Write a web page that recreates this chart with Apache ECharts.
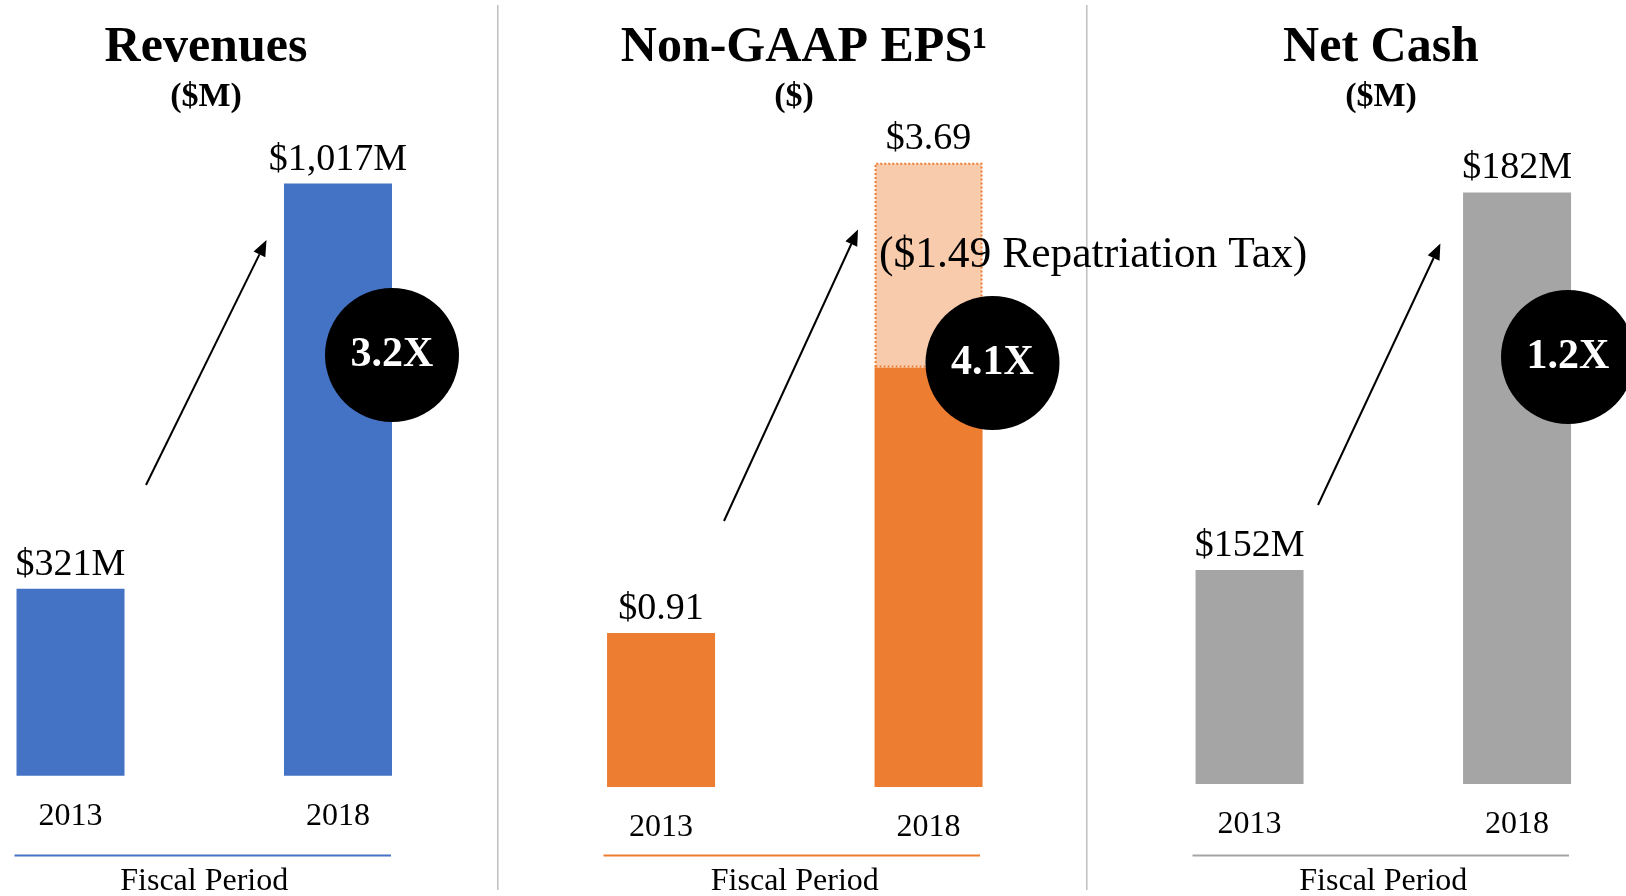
<!DOCTYPE html>
<html>
<head>
<meta charset="utf-8">
<script src="https://cdn.jsdelivr.net/npm/echarts@6/dist/echarts.min.js"></script>
<style>
html, body { margin: 0; padding: 0; background: #fff; }
#main { width: 1626px; height: 896px; }
</style>
</head>
<body>
<div id="main"></div>
<script>
var years = ['2013', '2018'];
var revenues = [321, 1017];
var epsBase = [0.91, 2.48];
var epsTax = [null, 1.21];
var taxNote = '($1.49 Repatriation Tax)';
var netCash = [152, 182];
var multiples = ['3.2X', '4.1X', '1.2X'];
var titles = ['Revenues', 'Non-GAAP EPS¹', 'Net Cash'];
var units = ['($M)', '($)', '($M)'];
var colors = ['#4472C4', '#ED7D31', '#A5A5A5'];

var FONT = 'Liberation Serif';
var chart = echarts.init(document.getElementById('main'));

function money(v) {
    return '$' + v.toLocaleString('en-US') + 'M';
}

function arrow(x1, y1, x2, y2) {
    var dx = x2 - x1, dy = y2 - y1;
    var len = Math.sqrt(dx * dx + dy * dy);
    var ux = dx / len, uy = dy / len;
    var hl = 16, hw = 6.5;
    var bx = x2 - ux * hl, by = y2 - uy * hl;
    return [
        { type: 'line', z: 100, shape: { x1: x1, y1: y1, x2: bx, y2: by }, style: { stroke: '#000', lineWidth: 2 } },
        { type: 'polygon', z: 100, shape: { points: [[x2, y2], [bx - uy * hw, by + ux * hw], [bx + uy * hw, by - ux * hw]] }, style: { fill: '#000' } }
    ];
}

function badge(cx, cy, txt) {
    return [
        { type: 'circle', z: 100, shape: { cx: cx, cy: cy, r: 67 }, style: { fill: '#000' } },
        { type: 'text', z: 101, x: cx, y: cy, style: { text: txt, fill: '#fff', font: 'bold 42px "Liberation Serif"', align: 'center', verticalAlign: 'middle' } }
    ];
}

var titleX = [206, 804, 1381];
var unitX = [206, 794, 1381];
var titleList = [];
for (var i = 0; i < 3; i++) {
    titleList.push({
        text: titles[i], left: titleX[i], top: 23, padding: 0, textAlign: 'center',
        textStyle: { fontFamily: FONT, fontSize: 50, fontWeight: 'bold', color: '#000' }
    });
    titleList.push({
        text: units[i], left: unitX[i], top: 80, padding: 0, textAlign: 'center',
        textStyle: { fontFamily: FONT, fontSize: 34, fontWeight: 'bold', color: '#000' }
    });
}

var nameGaps = [90, 79, 82];
var xAxes = [0, 1, 2].map(function (k) {
    return {
        type: 'category', gridIndex: k, data: years,
        axisLine: { show: false }, axisTick: { show: false },
        axisLabel: { margin: 25, fontSize: 32, color: '#000', fontFamily: FONT },
        name: 'Fiscal Period', nameLocation: 'middle', nameGap: nameGaps[k],
        nameTextStyle: { fontSize: 32, color: '#000', fontFamily: FONT }
    };
});

var valueLabel = { show: true, position: 'top', distance: 5, fontSize: 38, color: '#000', fontFamily: FONT };

var graphics = [
    { type: 'line', shape: { x1: 497.8, y1: 5, x2: 497.8, y2: 890 }, style: { stroke: '#BFBFBF', lineWidth: 1.5 } },
    { type: 'line', shape: { x1: 1086.8, y1: 5, x2: 1086.8, y2: 890 }, style: { stroke: '#BFBFBF', lineWidth: 1.5 } },
    { type: 'line', shape: { x1: 14.5, y1: 855.5, x2: 391, y2: 855.5 }, style: { stroke: colors[0], lineWidth: 2 } },
    { type: 'line', shape: { x1: 603.5, y1: 855.5, x2: 980, y2: 855.5 }, style: { stroke: colors[1], lineWidth: 2 } },
    { type: 'line', shape: { x1: 1192.5, y1: 855.5, x2: 1569, y2: 855.5 }, style: { stroke: colors[2], lineWidth: 2 } },
    { type: 'text', z: 102, x: 879, y: 256, style: { text: taxNote, fill: '#000', font: '43.5px "Liberation Serif"', verticalAlign: 'middle' } }
]
    .concat(arrow(146, 485, 266.5, 240))
    .concat(arrow(724, 521, 858, 229.5))
    .concat(arrow(1318, 505, 1440.4, 243.5))
    .concat(badge(392, 355, multiples[0]))
    .concat(badge(992.5, 363, multiples[1]))
    .concat(badge(1568, 357, multiples[2]));

var option = {
    animation: false,
    backgroundColor: '#fff',
    textStyle: { fontFamily: FONT },
    title: titleList,
    grid: [
        { left: -63.25, width: 535, top: 135.3, height: 640.4, outerBoundsMode: 'none' },
        { left: 527.3, width: 535, top: 110.2, height: 676.8, outerBoundsMode: 'none' },
        { left: 1115.8, width: 535, top: 91.8, height: 692.2, outerBoundsMode: 'none' }
    ],
    xAxis: xAxes,
    yAxis: [
        { type: 'value', gridIndex: 0, min: 0, max: 1100, show: false },
        { type: 'value', gridIndex: 1, min: 0, max: 4, show: false },
        { type: 'value', gridIndex: 2, min: 135, max: 190, show: false }
    ],
    series: [
        {
            type: 'bar', xAxisIndex: 0, yAxisIndex: 0, barWidth: 108, data: revenues,
            itemStyle: { color: colors[0] },
            label: Object.assign({}, valueLabel, { formatter: function (p) { return money(p.value); } })
        },
        {
            type: 'bar', xAxisIndex: 1, yAxisIndex: 1, barWidth: 108, stack: 'eps',
            data: epsBase.map(function (v, i) {
                return { value: v, label: { show: epsTax[i] == null } };
            }),
            itemStyle: { color: colors[1] },
            label: Object.assign({}, valueLabel, { formatter: function (p) { return '$' + p.value.toFixed(2); } })
        },
        {
            type: 'bar', xAxisIndex: 1, yAxisIndex: 1, barWidth: 108, stack: 'eps', data: epsTax,
            itemStyle: { color: '#F8CBAD', borderColor: colors[1], borderWidth: 2, borderType: 'dotted' },
            label: Object.assign({}, valueLabel, {
                formatter: function (p) { return '$' + (epsBase[p.dataIndex] + p.value).toFixed(2); }
            })
        },
        {
            type: 'bar', xAxisIndex: 2, yAxisIndex: 2, barWidth: 108, data: netCash,
            itemStyle: { color: colors[2] },
            label: Object.assign({}, valueLabel, { formatter: function (p) { return money(p.value); } })
        }
    ],
    graphic: graphics
};

chart.setOption(option);
</script>
</body>
</html>
